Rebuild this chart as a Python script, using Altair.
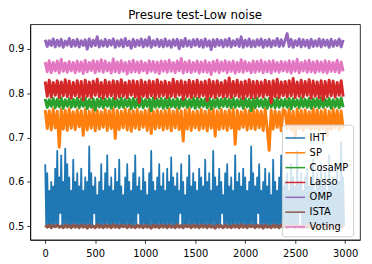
import altair as alt
import pandas as pd

SERIES = ["IHT", "SP", "CosaMP", "Lasso", "OMP", "ISTA", "Voting"]
COLORS = ["#1f77b4", "#ff7f0e", "#2ca02c", "#d62728", "#9467bd", "#8c564b", "#e377c2"]
TRIAL = list(range(0, 3000, 20))
TRIAL_IHT = list(range(0, 3000, 10))
X_TICKS = [0, 500, 1000, 1500, 2000, 2500, 3000]
Y_TICKS = [0.5, 0.6, 0.7, 0.8, 0.9]

IHT = [
    0.64, 0.50, 0.62, 0.50, 0.58, 0.50, 0.60, 0.50, 0.59, 0.50, 0.63, 0.50, 0.67, 0.50, 0.61, 0.53, 0.66, 0.50, 0.60, 0.50,
    0.675, 0.50, 0.64, 0.50, 0.61, 0.50, 0.58, 0.50, 0.65, 0.50, 0.60, 0.50, 0.62, 0.50, 0.59, 0.50, 0.63, 0.50, 0.58, 0.50,
    0.61, 0.50, 0.60, 0.50, 0.68, 0.50, 0.62, 0.50, 0.59, 0.53, 0.61, 0.50, 0.57, 0.50, 0.60, 0.50, 0.64, 0.50, 0.58, 0.50,
    0.62, 0.50, 0.66, 0.50, 0.59, 0.50, 0.61, 0.50, 0.58, 0.50, 0.63, 0.50, 0.60, 0.50, 0.65, 0.50, 0.59, 0.50, 0.57, 0.50,
    0.61, 0.50, 0.64, 0.50, 0.60, 0.50, 0.58, 0.50, 0.62, 0.50, 0.66, 0.50, 0.59, 0.53, 0.61, 0.50, 0.58, 0.50, 0.63, 0.50,
    0.60, 0.50, 0.57, 0.50, 0.62, 0.50, 0.67, 0.50, 0.60, 0.50, 0.58, 0.50, 0.61, 0.50, 0.64, 0.50, 0.59, 0.50, 0.62, 0.50,
    0.58, 0.50, 0.63, 0.50, 0.60, 0.50, 0.655, 0.50, 0.61, 0.50, 0.59, 0.50, 0.62, 0.50, 0.58, 0.53, 0.64, 0.50, 0.60, 0.50,
    0.57, 0.50, 0.61, 0.50, 0.66, 0.50, 0.59, 0.50, 0.62, 0.50, 0.60, 0.50, 0.58, 0.50, 0.63, 0.50, 0.61, 0.50, 0.59, 0.50,
    0.65, 0.50, 0.60, 0.50, 0.62, 0.50, 0.58, 0.50, 0.67, 0.50, 0.61, 0.50, 0.59, 0.50, 0.63, 0.50, 0.60, 0.53, 0.57, 0.50,
    0.62, 0.50, 0.64, 0.50, 0.59, 0.50, 0.61, 0.50, 0.58, 0.50, 0.66, 0.50, 0.60, 0.50, 0.62, 0.50, 0.59, 0.50, 0.63, 0.50,
    0.61, 0.50, 0.58, 0.50, 0.60, 0.50, 0.68, 0.50, 0.62, 0.50, 0.59, 0.50, 0.61, 0.53, 0.64, 0.50, 0.58, 0.50, 0.60, 0.50,
    0.63, 0.50, 0.59, 0.50, 0.62, 0.50, 0.57, 0.50, 0.65, 0.50, 0.60, 0.50, 0.58, 0.50, 0.61, 0.50, 0.66, 0.50, 0.59, 0.50,
    0.60, 0.50, 0.62, 0.50, 0.58, 0.50, 0.64, 0.50, 0.61, 0.50, 0.59, 0.50, 0.67, 0.50, 0.60, 0.53, 0.62, 0.50, 0.58, 0.50,
    0.61, 0.50, 0.63, 0.50, 0.59, 0.50, 0.60, 0.50, 0.65, 0.50, 0.58, 0.50, 0.62, 0.50, 0.60, 0.50, 0.64, 0.50, 0.59, 0.50,
    0.62, 0.50, 0.58, 0.50, 0.66, 0.50, 0.60, 0.50, 0.61, 0.50, 0.59, 0.50, 0.63, 0.50, 0.60, 0.50, 0.69, 0.50, 0.61, 0.50,
]
SP = [
    0.762, 0.720, 0.760, 0.717, 0.764, 0.722, 0.759, 0.678, 0.763, 0.719, 0.761, 0.716, 0.765, 0.721, 0.758,
    0.718, 0.762, 0.724, 0.760, 0.705, 0.763, 0.717, 0.759, 0.721, 0.764, 0.715, 0.761, 0.719, 0.758, 0.723,
    0.763, 0.716, 0.760, 0.720, 0.765, 0.698, 0.761, 0.718, 0.759, 0.722, 0.764, 0.717, 0.762, 0.714, 0.760,
    0.721, 0.763, 0.718, 0.758, 0.723, 0.761, 0.716, 0.764, 0.709, 0.760, 0.719, 0.762, 0.722, 0.759, 0.717,
    0.761, 0.720, 0.764, 0.715, 0.759, 0.722, 0.763, 0.718, 0.760, 0.692, 0.762, 0.719, 0.765, 0.716, 0.758,
    0.722, 0.760, 0.717, 0.763, 0.720, 0.759, 0.715, 0.762, 0.721, 0.764, 0.703, 0.760, 0.718, 0.763, 0.720,
    0.759, 0.716, 0.762, 0.721, 0.764, 0.685, 0.761, 0.719, 0.758, 0.723, 0.763, 0.717, 0.760, 0.720, 0.765,
    0.718, 0.761, 0.722, 0.759, 0.716, 0.764, 0.720, 0.671, 0.762, 0.719, 0.760, 0.723, 0.758, 0.715, 0.763,
    0.760, 0.721, 0.763, 0.717, 0.759, 0.700, 0.764, 0.720, 0.761, 0.716, 0.762, 0.722, 0.758, 0.718, 0.765,
    0.719, 0.762, 0.716, 0.760, 0.721, 0.763, 0.704, 0.759, 0.718, 0.764, 0.722, 0.761, 0.717, 0.760, 0.720,
]
COSAMP = [
    0.787, 0.768, 0.785, 0.770, 0.788, 0.767, 0.786, 0.769, 0.789, 0.766, 0.785, 0.770, 0.787, 0.768, 0.786,
    0.769, 0.788, 0.767, 0.786, 0.770, 0.789, 0.765, 0.785, 0.768, 0.787, 0.762, 0.786, 0.769, 0.788, 0.767,
    0.786, 0.770, 0.787, 0.766, 0.788, 0.769, 0.785, 0.767, 0.789, 0.768, 0.786, 0.770, 0.787, 0.765, 0.788,
    0.768, 0.786, 0.769, 0.788, 0.767, 0.785, 0.770, 0.787, 0.761, 0.789, 0.768, 0.786, 0.769, 0.788, 0.766,
    0.787, 0.767, 0.789, 0.769, 0.785, 0.768, 0.788, 0.766, 0.786, 0.770, 0.787, 0.768, 0.785, 0.769, 0.789,
    0.766, 0.788, 0.768, 0.786, 0.770, 0.787, 0.767, 0.789, 0.764, 0.785, 0.769, 0.788, 0.767, 0.786, 0.770,
    0.788, 0.769, 0.786, 0.767, 0.789, 0.768, 0.785, 0.770, 0.787, 0.766, 0.788, 0.769, 0.786, 0.760, 0.787,
    0.767, 0.789, 0.770, 0.785, 0.768, 0.787, 0.766, 0.788, 0.769, 0.786, 0.767, 0.789, 0.768, 0.785, 0.770,
    0.786, 0.768, 0.788, 0.765, 0.787, 0.770, 0.785, 0.767, 0.789, 0.769, 0.786, 0.768, 0.788, 0.766, 0.787,
    0.769, 0.787, 0.767, 0.789, 0.768, 0.786, 0.770, 0.788, 0.766, 0.785, 0.769, 0.787, 0.767, 0.789, 0.768,
]
LASSO = [
    0.826, 0.793, 0.829, 0.791, 0.824, 0.795, 0.828, 0.790, 0.825, 0.794, 0.830, 0.792, 0.827, 0.789, 0.824,
    0.794, 0.828, 0.791, 0.826, 0.785, 0.829, 0.793, 0.825, 0.790, 0.827, 0.795, 0.831, 0.792, 0.824, 0.789,
    0.829, 0.792, 0.825, 0.794, 0.828, 0.788, 0.826, 0.791, 0.830, 0.793, 0.824, 0.790, 0.827, 0.795, 0.828,
    0.791, 0.826, 0.779, 0.829, 0.793, 0.825, 0.790, 0.828, 0.794, 0.826, 0.789, 0.830, 0.792, 0.825, 0.794,
    0.827, 0.790, 0.824, 0.793, 0.831, 0.791, 0.826, 0.795, 0.828, 0.786, 0.825, 0.792, 0.829, 0.790, 0.826,
    0.793, 0.829, 0.791, 0.825, 0.794, 0.827, 0.783, 0.830, 0.792, 0.826, 0.790, 0.828, 0.794, 0.824, 0.791,
    0.828, 0.792, 0.834, 0.790, 0.826, 0.794, 0.829, 0.791, 0.825, 0.787, 0.827, 0.793, 0.830, 0.790, 0.826,
    0.790, 0.827, 0.793, 0.825, 0.791, 0.829, 0.795, 0.826, 0.778, 0.828, 0.792, 0.831, 0.790, 0.825, 0.794,
    0.826, 0.791, 0.828, 0.794, 0.833, 0.790, 0.825, 0.793, 0.829, 0.791, 0.826, 0.795, 0.830, 0.789, 0.827,
    0.793, 0.825, 0.790, 0.828, 0.785, 0.826, 0.792, 0.829, 0.794, 0.827, 0.791, 0.824, 0.795, 0.828, 0.792,
]
OMP = [
    0.920, 0.905, 0.918, 0.907, 0.922, 0.904, 0.919, 0.906, 0.921, 0.903, 0.917, 0.908, 0.923, 0.905, 0.919,
    0.906, 0.921, 0.904, 0.918, 0.907, 0.920, 0.899, 0.922, 0.905, 0.919, 0.907, 0.927, 0.904, 0.918, 0.906,
    0.921, 0.905, 0.919, 0.908, 0.922, 0.903, 0.918, 0.906, 0.920, 0.904, 0.923, 0.907, 0.917, 0.901, 0.921,
    0.905, 0.919, 0.907, 0.922, 0.904, 0.920, 0.906, 0.926, 0.903, 0.918, 0.907, 0.921, 0.905, 0.919, 0.904,
    0.922, 0.906, 0.918, 0.903, 0.920, 0.907, 0.921, 0.900, 0.919, 0.905, 0.923, 0.906, 0.918, 0.904, 0.920,
    0.907, 0.921, 0.905, 0.919, 0.903, 0.922, 0.906, 0.918, 0.898, 0.920, 0.905, 0.921, 0.907, 0.919, 0.904,
    0.920, 0.906, 0.923, 0.904, 0.918, 0.907, 0.921, 0.905, 0.927, 0.903, 0.919, 0.906, 0.922, 0.904, 0.918,
    0.905, 0.920, 0.907, 0.922, 0.903, 0.919, 0.906, 0.921, 0.904, 0.918, 0.907, 0.923, 0.905, 0.920, 0.906,
    0.919, 0.934, 0.905, 0.921, 0.903, 0.918, 0.907, 0.922, 0.904, 0.920, 0.906, 0.919, 0.902, 0.921, 0.905,
    0.918, 0.906, 0.922, 0.904, 0.920, 0.907, 0.919, 0.903, 0.921, 0.905, 0.918, 0.907, 0.922, 0.904, 0.920,
]
ISTA = [
    0.502, 0.498, 0.503, 0.497, 0.502, 0.499, 0.503, 0.498, 0.501, 0.497, 0.503, 0.498, 0.502, 0.497, 0.503,
    0.498, 0.502, 0.497, 0.503, 0.498, 0.502, 0.496, 0.503, 0.498, 0.501, 0.497, 0.504, 0.498, 0.502, 0.497,
    0.503, 0.498, 0.502, 0.497, 0.504, 0.498, 0.502, 0.497, 0.503, 0.499, 0.502, 0.497, 0.503, 0.498, 0.501,
    0.497, 0.503, 0.498, 0.502, 0.497, 0.503, 0.498, 0.501, 0.496, 0.503, 0.498, 0.502, 0.497, 0.503, 0.498,
    0.502, 0.497, 0.503, 0.498, 0.501, 0.497, 0.504, 0.498, 0.502, 0.497, 0.503, 0.499, 0.502, 0.497, 0.503,
    0.498, 0.502, 0.497, 0.503, 0.498, 0.502, 0.497, 0.503, 0.498, 0.501, 0.496, 0.503, 0.498, 0.502, 0.497,
    0.503, 0.498, 0.501, 0.497, 0.503, 0.498, 0.502, 0.497, 0.504, 0.498, 0.502, 0.497, 0.503, 0.499, 0.502,
    0.497, 0.503, 0.498, 0.502, 0.496, 0.503, 0.498, 0.501, 0.497, 0.503, 0.498, 0.502, 0.497, 0.503, 0.498,
    0.502, 0.497, 0.503, 0.499, 0.502, 0.497, 0.503, 0.498, 0.501, 0.497, 0.504, 0.498, 0.502, 0.497, 0.503,
    0.498, 0.502, 0.497, 0.503, 0.498, 0.501, 0.497, 0.503, 0.498, 0.502, 0.497, 0.503, 0.499, 0.502, 0.497,
]
VOTING = [
    0.870, 0.848, 0.873, 0.846, 0.869, 0.850, 0.872, 0.845, 0.876, 0.849, 0.868, 0.847, 0.871, 0.850, 0.869,
    0.846, 0.872, 0.849, 0.870, 0.844, 0.874, 0.848, 0.869, 0.851, 0.873, 0.846, 0.871, 0.849, 0.875, 0.847,
    0.872, 0.850, 0.868, 0.845, 0.877, 0.848, 0.870, 0.846, 0.873, 0.849, 0.869, 0.843, 0.871, 0.847, 0.874,
    0.848, 0.870, 0.846, 0.872, 0.850, 0.868, 0.845, 0.873, 0.849, 0.871, 0.847, 0.870, 0.844, 0.872, 0.849,
    0.871, 0.847, 0.874, 0.849, 0.869, 0.846, 0.872, 0.850, 0.878, 0.845, 0.870, 0.848, 0.873, 0.846, 0.869,
    0.849, 0.872, 0.845, 0.870, 0.848, 0.873, 0.847, 0.869, 0.842, 0.871, 0.849, 0.874, 0.846, 0.870, 0.850,
    0.873, 0.846, 0.870, 0.849, 0.872, 0.845, 0.869, 0.848, 0.875, 0.847, 0.871, 0.850, 0.868, 0.846, 0.872,
    0.847, 0.871, 0.849, 0.874, 0.846, 0.870, 0.848, 0.872, 0.845, 0.873, 0.849, 0.869, 0.847, 0.871, 0.850,
    0.870, 0.848, 0.873, 0.845, 0.871, 0.849, 0.876, 0.846, 0.869, 0.850, 0.872, 0.847, 0.874, 0.848, 0.870,
    0.846, 0.872, 0.849, 0.870, 0.847, 0.873, 0.845, 0.871, 0.849, 0.869, 0.848, 0.874, 0.846, 0.870, 0.849,
]

VALUES = {"IHT": IHT, "SP": SP, "CosaMP": COSAMP, "Lasso": LASSO,
          "OMP": OMP, "ISTA": ISTA, "Voting": VOTING}

rows = []
for s in SERIES:
    trials = TRIAL_IHT if s == "IHT" else TRIAL
    for t, v in zip(trials, VALUES[s]):
        rows.append({"trial": t, "value": v, "series": s})
df = pd.DataFrame(rows)

FONT = "DejaVu Sans"

x_enc = alt.X("trial:Q",
              scale=alt.Scale(domain=[-150, 3149], nice=False, zero=False),
              axis=alt.Axis(values=X_TICKS, format="d", title=None, grid=False,
                            tickSize=3.5, labelPadding=5))
y_enc = alt.Y("value:Q",
              scale=alt.Scale(domain=[0.4697, 0.955], nice=False, zero=False),
              axis=alt.Axis(values=Y_TICKS, format=".1f", title=None, grid=False,
                            tickSize=3.5, labelPadding=3))
color_enc = alt.Color(
    "series:N",
    scale=alt.Scale(domain=SERIES, range=COLORS),
    legend=alt.Legend(
        title=None, orient="none", legendX=254.5, legendY=101.5,
        symbolType="M-1.15,0L1.15,0", symbolSize=303, symbolStrokeWidth=1.5,
        labelFont=FONT, labelFontSize=10, labelColor="black", labelOffset=5,
        rowPadding=0, padding=4,
        fillColor="rgba(255,255,255,0.8)", strokeColor="#cccccc", cornerRadius=3,
    ),
)

layers = [
    alt.Chart(df).transform_filter(alt.datum.series == s)
    .mark_line(strokeWidth=1.8 if s == "IHT" else 3.0, strokeJoin="round")
    .encode(x=x_enc, y=y_enc, color=color_enc)
    for s in SERIES
]

chart = (
    alt.layer(*layers)
    .properties(
        width=333.5, height=218,
        title=alt.Title("Presure test-Low noise", font=FONT, fontSize=12,
                        fontWeight="normal", color="black", anchor="middle",
                        frame="group", offset=2),
        autosize=alt.AutoSizeParams(type="none"),
        padding={"left": 22.5, "top": 15, "right": 4, "bottom": 20},
    )
    .configure_view(stroke="black", strokeWidth=0.8)
    .configure_axis(labelFont=FONT, labelFontSize=10, labelColor="black",
                    tickColor="black", tickWidth=0.8, domainColor="black",
                    domainWidth=0.8)
)

chart.save("out.html", embed_options={"renderer": "svg", "actions": False})
